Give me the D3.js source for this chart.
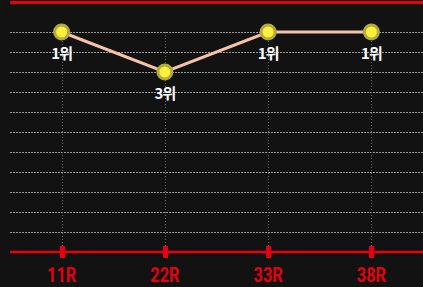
<!DOCTYPE html>
<html>
<head>
<meta charset="utf-8">
<script src="https://cdn.jsdelivr.net/npm/d3@7"></script>
<style>
  html, body { margin: 0; padding: 0; background: #121212; }
  svg { display: block; }
</style>
</head>
<body>
<svg id="chart"></svg>
<script>
const rounds = ["11R", "22R", "33R", "38R"];
const ranks = [1, 3, 1, 1];
const rankTicks = [1, 2, 3, 4, 5, 6, 7, 8, 9, 10, 11];

const width = 423;
const height = 287;
const margin = {top: 32, right: 0, bottom: 35, left: 10};

const svg = d3.select("#chart")
    .attr("width", width)
    .attr("height", height);

const x = d3.scalePoint()
    .domain(rounds)
    .range([margin.left, width - margin.right])
    .padding(0.5);

const y = d3.scaleLinear()
    .domain([1, 12])
    .range([margin.top, height - margin.bottom]);

// top red bar
svg.append("line")
    .attr("x1", margin.left).attr("x2", width)
    .attr("y1", 2.5).attr("y2", 2.5)
    .attr("stroke", "#e50012")
    .attr("stroke-width", 3);

// horizontal grid
svg.append("g")
  .selectAll("line").data(rankTicks).enter().append("line")
    .attr("x1", margin.left).attr("x2", width)
    .attr("y1", (d) => y(d) + 0.5).attr("y2", (d) => y(d) + 0.5)
    .attr("stroke", "#9a9a9a")
    .attr("stroke-width", 1)
    .attr("stroke-dasharray", "2,1");

// vertical grid
svg.append("g")
  .selectAll("line").data(rounds).enter().append("line")
    .attr("x1", (d) => Math.round(x(d)) + 0.5).attr("x2", (d) => Math.round(x(d)) + 0.5)
    .attr("y1", y(1)).attr("y2", y(12))
    .attr("stroke", "#6a6a6a")
    .attr("stroke-width", 1)
    .attr("stroke-dasharray", "1,2");

// bottom axis
const axis = svg.append("g");
axis.append("line")
    .attr("x1", margin.left).attr("x2", width)
    .attr("y1", y(12)).attr("y2", y(12))
    .attr("stroke", "#e50012")
    .attr("stroke-width", 2.5);

axis.selectAll("rect").data(rounds).enter().append("rect")
    .attr("x", (d) => Math.round(x(d)) - 2)
    .attr("y", y(12) - 6)
    .attr("width", 5)
    .attr("height", 12)
    .attr("fill", "#e50012");

axis.selectAll("text").data(rounds).enter().append("text")
    .attr("transform", (d) => "translate(" + x(d) + "," + (y(12) + 30) + ") scale(0.82,1)")
    .attr("text-anchor", "middle")
    .attr("fill", "#e50012")
    .style("font-family", "Roboto, sans-serif")
    .style("font-weight", 700)
    .style("font-size", "20px")
    .text((d) => d);

const data = rounds.map((r, i) => ({round: r, rank: ranks[i]}));

// line
svg.append("path")
    .datum(data)
    .attr("fill", "none")
    .attr("stroke", "#f6c3a8")
    .attr("stroke-width", 3)
    .attr("d", d3.line().x((d) => x(d.round)).y((d) => y(d.rank)));

// points
svg.append("g")
  .selectAll("circle").data(data).enter().append("circle")
    .attr("cx", (d) => x(d.round))
    .attr("cy", (d) => y(d.rank))
    .attr("r", 7)
    .attr("fill", "#fbf03c")
    .attr("stroke", "#b3aa38")
    .attr("stroke-width", 3);

// labels
svg.append("g")
  .selectAll("text").data(data).enter().append("text")
    .attr("x", (d) => x(d.round))
    .attr("y", (d) => y(d.rank) + 27)
    .attr("text-anchor", "middle")
    .attr("fill", "#ffffff")
    .style("font-family", "'Noto Sans CJK KR', sans-serif")
    .style("font-weight", 700)
    .style("font-size", "15px")
    .style("letter-spacing", "-1px")
    .text((d) => d.rank + "위");
</script>
</body>
</html>
